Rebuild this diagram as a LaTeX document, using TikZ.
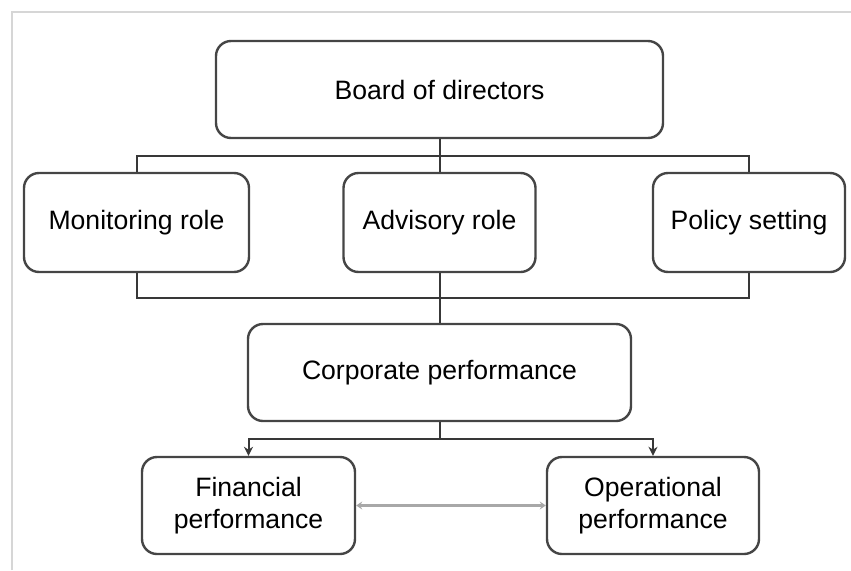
\documentclass[tikz,border=0pt]{standalone}
\usepackage{fontspec}
\setmainfont{Liberation Sans}
\usetikzlibrary{arrows, arrows.meta, calc, shapes}
\definecolor{boxline}{HTML}{454545}
\definecolor{linkline}{HTML}{383838}
\definecolor{frameline}{HTML}{D6D6D6}
\definecolor{twowayline}{HTML}{A8A8A8}
\tikzstyle{process} = [rectangle, rounded corners=7.5pt, minimum height=48.5pt, text centered, draw=boxline, line width=1.2pt, font=\fontsize{13.3}{16}\selectfont]
\tikzstyle{link} = [draw=linkline, line width=1pt]
\tikzstyle{arrow} = [link, ->, >={Stealth[length=4.5pt,width=4.5pt]}]
\tikzstyle{twoway} = [draw=twowayline, line width=1.4pt, <->, >={Stealth[length=3pt,width=4pt]}]

\begin{document}
\begin{tikzpicture}[node distance=66.5pt]
			\useasboundingbox (0,0) rectangle (425.5pt,285pt);
			% frame
			\draw[frameline, line width=0.75pt] (6pt,0) -- (6pt,279pt) -- (425.5pt,279pt);
			\node(board)[process, minimum width=223.5pt] at (219.75pt,240.25pt) {Board of directors};
			\node(monitor)[process, below of=board, minimum width=112.5pt, minimum height=49.5pt, xshift=-151.5pt]{Monitoring role};
			\node(advisory)[process, below of=board, minimum width=96pt, minimum height=49.5pt]{Advisory role};
			\node(policy)[process, below of=board, minimum width=96pt, minimum height=49.5pt, xshift=154.75pt]{Policy setting};
			\node(corporate)[process, below of=advisory, minimum width=191.5pt, yshift=-8.5pt]{Corporate performance};
			\node(financial)[process, below of=corporate, minimum width=106.5pt, text width=90pt, xshift=-95.5pt]{Financial performance};
			\node(operational)[process, below of=corporate, minimum width=106pt, text width=90pt, xshift=106.75pt]{Operational performance};
			% bars
			\coordinate (topbar) at ($(board.south)!0.5!(advisory.north)$);
			\coordinate (midbar) at ($(advisory.south)!0.5!(corporate.north)$);
			\coordinate (lowbar) at ($(corporate.south)!0.5!(financial.north)$);
			\draw [link] (board.south) -- (advisory.north);
			\draw [link] (monitor.north) |- (topbar) -| (policy.north);
			\draw [link] (advisory.south) -- (corporate.north);
			\draw [link] (monitor.south) |- (midbar) -| (policy.south);
			\draw [link] (corporate.south) -- (corporate.south |- lowbar);
			\draw [arrow] (corporate.south |- lowbar) -| (financial.north);
			\draw [arrow] (corporate.south |- lowbar) -| (operational.north);
			\draw [twoway] (financial.east) -- (operational.west);
		\end{tikzpicture}
\end{document}
